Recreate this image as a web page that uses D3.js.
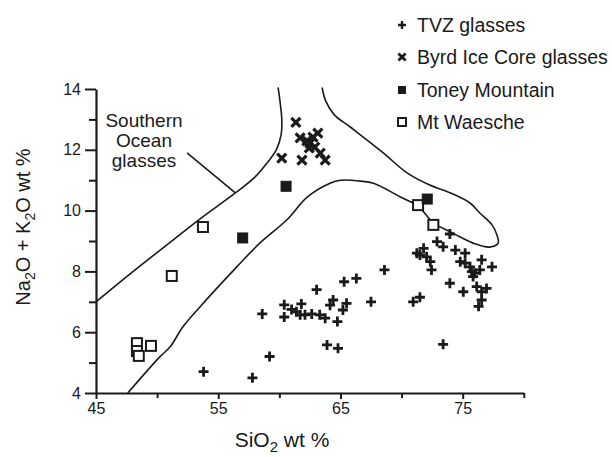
<!DOCTYPE html>
<html><head><meta charset="utf-8">
<script src="https://cdn.jsdelivr.net/npm/d3@7"></script>
<style>
body{margin:0;background:#fff}
svg{display:block}
text{font-family:"Liberation Sans",Arial,Helvetica,sans-serif;fill:#1a1a1a}
</style>
</head><body><svg id="c" width="612" height="457"></svg>
<script>
// ---- data (SiO2 wt %, Na2O+K2O wt %) ----
const tvz = [[53.8,4.7],[57.8,4.5],[59.2,5.2],[58.6,6.6],[60.4,6.9],[60.4,6.5],[61.0,6.75],[61.4,6.67],[61.8,6.93],[61.7,6.57],[62.1,6.57],[62.65,6.6],[63.05,7.4],[63.3,6.57],[63.75,6.46],[64.15,6.89],[64.4,7.06],[64.75,6.35],[65.2,6.73],[65.5,6.95],[65.3,7.66],[66.3,7.77],[63.9,5.58],[64.8,5.47],[67.5,7.0],[68.6,8.05],[70.95,7.0],[71.5,7.15],[73.4,5.6],[71.25,8.6],[71.8,8.76],[71.5,8.54],[72.05,8.48],[72.35,8.32],[72.45,8.05],[72.9,8.98],[73.4,8.81],[73.95,9.23],[74.4,8.7],[75.2,8.6],[74.8,8.32],[75.2,8.27],[75.6,8.15],[75.75,7.99],[76.0,7.94],[76.4,8.05],[76.55,8.38],[77.4,8.15],[75.85,7.83],[73.95,7.61],[75.05,7.33],[76.15,7.5],[76.95,7.44],[76.55,7.33],[76.55,7.06],[76.3,6.85]];
const byrd = [[61.35,12.9],[60.2,11.73],[61.7,12.39],[61.85,11.66],[62.25,12.29],[62.5,12.22],[62.75,12.42],[63.15,12.55],[62.9,12.09],[63.35,11.89],[63.75,11.66],[62.45,12.06]];
const toney = [[57.0,9.1],[60.55,10.8],[72.1,10.38]];
const waesche = [[53.75,9.46],[51.2,7.85],[48.35,5.64],[48.35,5.38],[48.5,5.22],[49.5,5.55],[71.35,10.18],[72.6,9.53]];
// field boundaries
const southernOcean = [[45,7.0],[48.2,8.05],[51.3,9.03],[53.6,9.75],[56.4,10.58],[58.0,11.1],[59.0,11.57],[59.75,12.0],[60.15,12.5],[60.2,13.0],[60.05,13.6],[59.9,14.05]];
const pointer = [[52.45,11.9],[56.4,10.58]];
const tvzField = [[63.5,14.05],[63.8,13.6],[64.5,13.15],[65.8,12.75],[68.5,11.9],[70.45,11.24],[72.3,10.84],[74.0,10.58],[75.6,10.25],[76.4,9.92],[77.4,9.53],[77.8,9.2],[77.9,8.93],[77.2,8.8],[75.85,8.93],[74.8,9.13],[74.0,9.3],[72.6,9.6],[71.35,10.15],[69.9,10.45],[67.7,10.9],[66.6,10.97],[65.0,11.0],[64.15,10.9],[62.3,10.45],[60.6,9.69],[58.4,8.93],[56.5,8.14],[53.5,6.83],[52.1,6.17],[51.05,5.51],[50.2,5.18],[47.6,4.0]];
const xMajor = [45,55,65,75];
const xMinor = [50,60,70,80];
const yMajor = [4,6,8,10,12,14];
const yMinor = [5,7,9,11,13];
const legendLabels = ["TVZ glasses","Byrd Ice Core glasses","Toney Mountain","Mt Waesche"];
const fieldLabel = ["Southern","Ocean","glasses"];

const svg = d3.select("#c");
const ink = "#1a1a1a";
const x = d3.scaleLinear().domain([45,80]).range([96,523.8]);
const y = d3.scaleLinear().domain([4,14]).range([393,89]);

// axes
const gx = svg.append("g").attr("transform",`translate(0,${y(4)})`)
  .call(d3.axisBottom(x).tickValues(xMajor).tickSize(6).tickSizeOuter(0).tickPadding(4));
const gxm = svg.append("g").attr("transform",`translate(0,${y(4)})`)
  .call(d3.axisBottom(x).tickValues(xMinor).tickSize(5).tickSizeOuter(0).tickFormat(""));
const gy = svg.append("g").attr("transform",`translate(${x(45)},0)`)
  .call(d3.axisLeft(y).tickValues(yMajor).tickSize(11).tickSizeOuter(0).tickPadding(4));
const gym = svg.append("g").attr("transform",`translate(${x(45)},0)`)
  .call(d3.axisLeft(y).tickValues(yMinor).tickSize(7).tickSizeOuter(0).tickFormat(""));
[gx,gxm,gy,gym].forEach(g=>{
  g.selectAll("path.domain").attr("stroke",ink).attr("stroke-width",2.2);
  g.selectAll(".tick line").attr("stroke",ink).attr("stroke-width",2);
  g.selectAll(".tick text").attr("fill",ink).style("font-size","16px").style("font-family",'"Liberation Sans",Arial,sans-serif');
});
gxm.select("path.domain").remove(); gym.select("path.domain").remove();

// field lines
const line = d3.line().x(d=>x(d[0])).y(d=>y(d[1])).curve(d3.curveCatmullRom.alpha(0.5));
svg.append("path").datum(southernOcean).attr("d",line).attr("fill","none").attr("stroke",ink).attr("stroke-width",1.6);
svg.append("path").datum(tvzField).attr("d",line).attr("fill","none").attr("stroke",ink).attr("stroke-width",1.6);
svg.append("path").datum(pointer).attr("d",d3.line().x(d=>x(d[0])).y(d=>y(d[1]))).attr("fill","none").attr("stroke",ink).attr("stroke-width",1.6);

// field label
svg.append("g").selectAll("text").data(fieldLabel).join("text")
  .attr("x",144).attr("y",(d,i)=>127+i*20).attr("text-anchor","middle").style("font-size","19px").text(d=>d);

// symbols
const plusP = "M-5,0H5M0,-5V5";
const crossP = "M-4.5,-4.5L4.5,4.5M-4.5,4.5L4.5,-4.5";
function drawPlus(g,pts){ g.selectAll(null).data(pts).join("path").attr("d",plusP)
  .attr("transform",d=>`translate(${x(d[0])},${y(d[1])})`).attr("stroke",ink).attr("stroke-width",2.8).attr("fill","none"); }
function drawCross(g,pts){ g.selectAll(null).data(pts).join("path").attr("d",crossP)
  .attr("transform",d=>`translate(${x(d[0])},${y(d[1])})`).attr("stroke",ink).attr("stroke-width",3.2).attr("fill","none"); }
function drawSq(g,pts,filled){ g.selectAll(null).data(pts).join("rect")
  .attr("x",d=>x(d[0])-5).attr("y",d=>y(d[1])-5).attr("width",10).attr("height",10)
  .attr("fill",filled?ink:"#fff").attr("stroke",ink).attr("stroke-width",filled?1:2); }
const pg = svg.append("g");
drawPlus(pg.append("g"),tvz);
drawCross(pg.append("g"),byrd);
drawSq(pg.append("g"),waesche,false);
drawSq(pg.append("g"),toney,true);

// legend
const lg = svg.append("g");
const ly = [25,57,90,122];
lg.append("path").attr("d",plusP).attr("transform",`translate(402,${ly[0]}) scale(0.8)`).attr("stroke",ink).attr("stroke-width",3).attr("fill","none");
lg.append("path").attr("d",crossP).attr("transform",`translate(402,${ly[1]}) scale(0.8)`).attr("stroke",ink).attr("stroke-width",3.5).attr("fill","none");
lg.append("rect").attr("x",398).attr("y",ly[2]-4).attr("width",8).attr("height",8).attr("fill",ink);
lg.append("rect").attr("x",398).attr("y",ly[3]-4).attr("width",8).attr("height",8).attr("fill","#fff").attr("stroke",ink).attr("stroke-width",2);
lg.selectAll("text").data(legendLabels).join("text").attr("x",417).attr("y",(d,i)=>ly[i]+7)
  .style("font-size","19.5px").text(d=>d);

// axis titles
const xt = svg.append("text").attr("x",282).attr("y",447).attr("text-anchor","middle").style("font-size","21px");
xt.append("tspan").text("SiO");
xt.append("tspan").attr("dy",5).style("font-size","15px").text("2");
xt.append("tspan").attr("dy",-5).text(" wt %");
const yt = svg.append("text").attr("transform","translate(30,227) rotate(-90)").attr("text-anchor","middle").style("font-size","20px");
yt.append("tspan").text("Na");
yt.append("tspan").attr("dy",5).style("font-size","14px").text("2");
yt.append("tspan").attr("dy",-5).text("O + K");
yt.append("tspan").attr("dy",5).style("font-size","14px").text("2");
yt.append("tspan").attr("dy",-5).text("O wt %");
</script></body></html>
